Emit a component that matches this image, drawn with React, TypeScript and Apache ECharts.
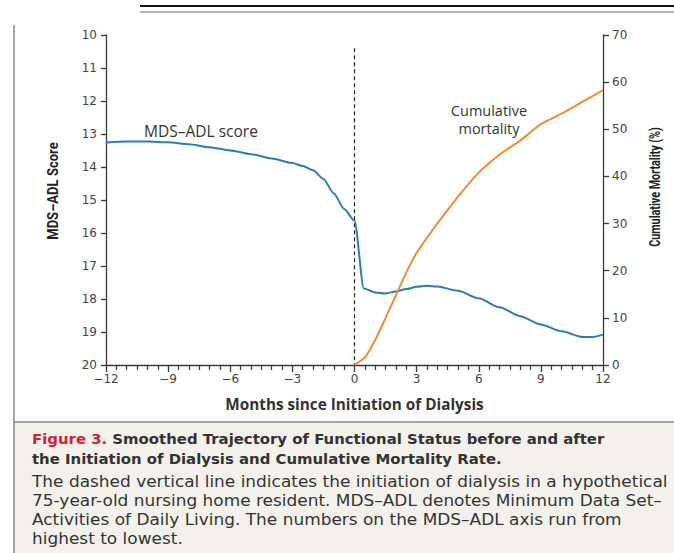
import React, { useEffect, useRef } from "react";
import * as echarts from "echarts";

const monthsADL = [-12, -11, -10, -9, -8, -7, -6, -5, -4, -3, -2.5, -2, -1.5, -1, -0.5, 0, 0.45, 1, 1.5, 2, 2.5, 3, 3.5, 4, 5, 6, 7, 8, 9, 10, 11, 11.5, 12];
const adlScore = [13.26, 13.23, 13.23, 13.25, 13.31, 13.4, 13.5, 13.61, 13.74, 13.88, 13.97, 14.1, 14.36, 14.8, 15.27, 15.63, 17.68, 17.8, 17.83, 17.77, 17.7, 17.63, 17.6, 17.62, 17.75, 17.98, 18.25, 18.52, 18.77, 18.98, 19.15, 19.15, 19.08];

const monthsMort = [0, 0.5, 1, 1.5, 2, 2.5, 3, 3.5, 4, 5, 6, 7, 8, 9, 10, 11, 12];
const mortality = [0, 1.6, 5.3, 10.0, 14.8, 19.6, 23.8, 27.0, 30.0, 35.7, 40.8, 44.6, 47.6, 51.1, 53.3, 55.8, 58.3];

const dialysisX = [0, 0];
const dialysisY = [10.4, 20];

const xTicks = [-12, -9, -6, -3, 0, 3, 6, 9, 12];

const captionTitle = [
  "Smoothed Trajectory of Functional Status before and after",
  "the Initiation of Dialysis and Cumulative Mortality Rate.",
];
const captionBody = [
  "The dashed vertical line indicates the initiation of dialysis in a hypothetical",
  "75-year-old nursing home resident. MDS\u2013ADL denotes Minimum Data Set\u2013",
  "Activities of Daily Living. The numbers on the MDS\u2013ADL axis run from",
  "highest to lowest.",
];

const FONT = "'Open Sans', 'Noto Sans', sans-serif";
const TICKFONT = "'DejaVu Sans', sans-serif";
const CAPFONT = "'DejaVu Sans', sans-serif";

export default function App() {
  const ref = useRef<HTMLDivElement>(null);
  useEffect(() => {
    if (!ref.current) return;
    const chart = echarts.init(ref.current, null, { renderer: "svg" });
    const axisColor = "#3a3a3a";
    const bodyY = [482, 501, 520, 539];
    const option: any = {
      animation: false,
      backgroundColor: "#ffffff",
      textStyle: { fontFamily: FONT },
      grid: { left: 106, right: 71, top: 35, bottom: 188, containLabel: false },
      xAxis: {
        type: "value",
        min: -12,
        max: 12,
        interval: 3,
        axisLine: { show: true, onZero: false, lineStyle: { color: axisColor, width: 1.3 } },
        axisTick: { show: true, length: 7, lineStyle: { color: axisColor, width: 1.3 } },
        minorTick: { show: true, splitNumber: 6, length: 5, lineStyle: { color: axisColor, width: 1.2 } },
        splitLine: { show: false },
        axisLabel: {
          margin: 8,
          fontSize: 12,
          color: "#444",
          fontFamily: TICKFONT,
          formatter: (v: number) => (xTicks.includes(v) ? (v < 0 ? "\u2212" + Math.abs(v) : String(v)) : ""),
        },
        name: "Months since Initiation of Dialysis",
        nameLocation: "middle",
        nameGap: 31,
        nameTextStyle: { fontSize: 15.3, fontWeight: "bold", color: "#333", fontFamily: FONT },
      },
      yAxis: [
        {
          type: "value",
          min: 10,
          max: 20,
          interval: 1,
          inverse: true,
          position: "left",
          axisLine: { show: true, onZero: false, lineStyle: { color: axisColor, width: 1.3 } },
          axisTick: { show: true, length: 5, lineStyle: { color: axisColor, width: 1.3 } },
          splitLine: { show: false },
          axisLabel: { margin: 9, fontSize: 12, color: "#444", fontFamily: TICKFONT },
        },
        {
          type: "value",
          min: 0,
          max: 70,
          interval: 10,
          position: "right",
          axisLine: { show: true, onZero: false, lineStyle: { color: axisColor, width: 1.3 } },
          axisTick: { show: true, length: 6, lineStyle: { color: axisColor, width: 1.3 } },
          splitLine: { show: false },
          axisLabel: { margin: 9, fontSize: 12, color: "#444", fontFamily: TICKFONT },
        },
      ],
      series: [
        {
          type: "line",
          name: "dialysis",
          yAxisIndex: 0,
          data: dialysisX.map((x, i) => [x, dialysisY[i]]),
          showSymbol: false,
          lineStyle: { color: "#222", width: 1.2, type: [4, 3] },
        },
        {
          type: "line",
          name: "MDS-ADL score",
          yAxisIndex: 0,
          data: monthsADL.map((x, i) => [x, adlScore[i]]),
          showSymbol: false,
          smooth: 0.25,
          smoothMonotone: "x",
          lineStyle: { color: "#2a7bc0", width: 2 },
        },
        {
          type: "line",
          name: "Cumulative mortality",
          yAxisIndex: 1,
          data: monthsMort.map((x, i) => [x, mortality[i]]),
          showSymbol: false,
          smooth: 0.2,
          lineStyle: { color: "#ef8c34", width: 2 },
        },
      ],
      graphic: [
        { type: "line", shape: { x1: 140, y1: 6, x2: 674, y2: 6 }, style: { stroke: "#111", lineWidth: 2 }, silent: true },
        { type: "line", shape: { x1: 140, y1: 12, x2: 674, y2: 12 }, style: { stroke: "#9a9a9a", lineWidth: 1.5 }, silent: true },
        { type: "rect", shape: { x: 14, y: 422, width: 660, height: 131 }, style: { fill: "#f4f1ec" }, silent: true },
        { type: "line", shape: { x1: 14, y1: 422, x2: 674, y2: 422 }, style: { stroke: "#888", lineWidth: 1.5 }, silent: true },
        { type: "line", shape: { x1: 14, y1: 25, x2: 14, y2: 553 }, style: { stroke: "#888", lineWidth: 1.5 }, silent: true },
        {
          type: "text",
          x: 53,
          y: 191,
          rotation: Math.PI / 2,
          scaleX: 0.87,
          style: { text: "MDS\u2013ADL Score", font: "bold 15px Roboto, sans-serif", fill: "#222", textAlign: "center", textVerticalAlign: "middle" },
        },
        {
          type: "text",
          x: 655,
          y: 187,
          rotation: Math.PI / 2,
          scaleX: 0.72,
          style: { text: "Cumulative Mortality (%)", font: "bold 15px Roboto, sans-serif", fill: "#222", textAlign: "center", textVerticalAlign: "middle" },
        },
        {
          type: "text",
          x: 201,
          y: 131,
          style: { text: "MDS\u2013ADL score", font: `15.5px ${FONT}`, fill: "#333", textAlign: "center", textVerticalAlign: "middle" },
        },
        {
          type: "text",
          x: 489,
          y: 110,
          style: { text: "Cumulative", font: `14.5px ${FONT}`, fill: "#333", textAlign: "center", textVerticalAlign: "middle" },
        },
        {
          type: "text",
          x: 489,
          y: 128,
          style: { text: "mortality", font: `14.5px ${FONT}`, fill: "#333", textAlign: "center", textVerticalAlign: "middle" },
        },
        {
          type: "text",
          x: 32,
          y: 439,
          style: {
            text: "{r|Figure 3.} {b|" + captionTitle[0] + "}",
            textVerticalAlign: "middle",
            rich: {
              r: { font: `bold 14.9px ${CAPFONT}`, fill: "#d2232f", color: "#d2232f" },
              b: { font: `bold 14.9px ${CAPFONT}`, fill: "#333", color: "#333" },
            },
            font: `bold 14.9px ${CAPFONT}`,
          },
        },
        {
          type: "text",
          x: 32,
          y: 459,
          style: { text: captionTitle[1], font: `bold 14.9px ${CAPFONT}`, fill: "#333", textVerticalAlign: "middle" },
        },
        ...captionBody.map((t, i) => ({
          type: "text",
          x: 32,
          y: bodyY[i],
          scaleX: 1.06,
          style: { text: t, font: `16px ${CAPFONT}`, fill: "#333", textVerticalAlign: "middle" },
        })),
      ],
    };
    chart.setOption(option);
    return () => chart.dispose();
  }, []);
  return <div ref={ref} style={{ position: "fixed", left: 0, top: 0, width: 674, height: 553 }} />;
}
